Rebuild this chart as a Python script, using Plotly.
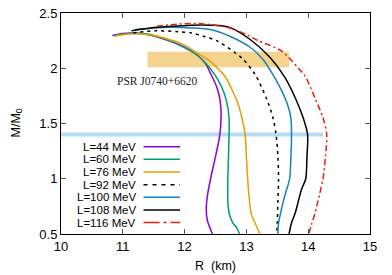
import plotly.graph_objects as go

# ---- data ----
labels = ["L=44 MeV", "L=60 MeV", "L=76 MeV", "L=92 MeV", "L=100 MeV", "L=108 MeV", "L=116 MeV"]

R_44 = [10.83, 11.0, 11.15, 11.36, 11.57, 11.79, 12.0, 12.2, 12.33, 12.44, 12.52, 12.57, 12.59, 12.57, 12.50, 12.42, 12.37, 12.35, 12.37, 12.45]
M_44 = [2.297, 2.315, 2.32, 2.31, 2.28, 2.24, 2.19, 2.12, 2.05, 1.93, 1.83, 1.72, 1.60, 1.40, 1.20, 1.00, 0.85, 0.72, 0.62, 0.50]

R_60 = [10.85, 11.1, 11.4, 11.65, 11.95, 12.2, 12.35, 12.49, 12.60, 12.68, 12.72, 12.72, 12.71, 12.70, 12.70, 12.72, 12.78, 12.84, 12.89]
M_60 = [2.295, 2.315, 2.31, 2.27, 2.20, 2.12, 2.04, 1.94, 1.83, 1.70, 1.55, 1.40, 1.20, 1.00, 0.80, 0.69, 0.60, 0.56, 0.50]

R_76 = [10.87, 11.1, 11.4, 11.7, 12.0, 12.25, 12.41, 12.55, 12.65, 12.78, 12.87, 12.94, 12.98, 13.00, 13.02, 13.05, 13.08, 13.14, 13.22]
M_76 = [2.29, 2.31, 2.305, 2.27, 2.21, 2.12, 2.065, 1.99, 1.93, 1.79, 1.67, 1.52, 1.40, 1.20, 1.00, 0.80, 0.68, 0.60, 0.50]

R_92 = [11.17, 11.52, 11.9, 12.11, 12.33, 12.52, 12.82, 12.95, 13.14, 13.33, 13.43, 13.48, 13.51, 13.52, 13.51, 13.50, 13.49]
M_92 = [2.32, 2.34, 2.33, 2.32, 2.285, 2.25, 2.14, 2.08, 1.944, 1.72, 1.55, 1.40, 1.20, 1.00, 0.80, 0.60, 0.50]

R_100 = [11.2, 11.5, 11.79, 12.1, 12.41, 12.73, 13.06, 13.27, 13.41, 13.55, 13.66, 13.72, 13.73, 13.72, 13.70, 13.65, 13.60, 13.55, 13.52, 13.51]
M_100 = [2.35, 2.365, 2.37, 2.365, 2.35, 2.29, 2.19, 2.08, 1.96, 1.82, 1.68, 1.55, 1.40, 1.20, 1.00, 0.90, 0.80, 0.68, 0.60, 0.50]

R_108 = [11.14, 11.45, 11.79, 12.1, 12.41, 12.73, 13.06, 13.38, 13.62, 13.80, 13.92, 13.99, 13.98, 13.96, 13.89, 13.79, 13.73, 13.69]
M_108 = [2.34, 2.365, 2.38, 2.39, 2.39, 2.37, 2.26, 2.10, 1.92, 1.72, 1.55, 1.40, 1.20, 1.00, 0.90, 0.69, 0.60, 0.50]

R_116 = [11.55, 11.9, 12.2, 12.5, 12.75, 12.98, 13.19, 13.57, 13.84, 13.95, 14.11, 14.24, 14.30, 14.28, 14.24, 14.18, 14.11, 14.05, 14.01]
M_116 = [2.38, 2.40, 2.405, 2.39, 2.36, 2.31, 2.25, 2.156, 2.00, 1.93, 1.73, 1.55, 1.40, 1.20, 1.00, 0.85, 0.69, 0.58, 0.50]

band_R = [10.0, 14.24]          # canonical 1.4 Msun band
band_M = [1.40, 1.40]
psr_R = [11.40, 13.69]          # PSR J0740+6620 constraint box
psr_M = [2.01, 2.15]
psr_label = "PSR J0740+6620"

x_ticks = [10, 11, 12, 13, 14, 15]
y_ticks = [0.5, 1, 1.5, 2, 2.5]
y_ticktext = ["0.5", "1", "1.5", "2", "2.5"]

# ---- styles: (R, M, color, curve dash, key dash) ----
series = [
    (R_44, M_44, "#9400d3", "solid", "solid"),
    (R_60, M_60, "#009e73", "solid", "solid"),
    (R_76, M_76, "#e69f00", "solid", "solid"),
    (R_92, M_92, "#000000", "3px,4px", "4px,5px"),
    (R_100, M_100, "#1a7fc1", "solid", "solid"),
    (R_108, M_108, "#000000", "solid", "solid"),
    (R_116, M_116, "#e51e10", "6px,3px,2px,3px", "16px,4px,3px,4px"),
]

W, H = 392, 275
plot_l, plot_r, plot_t, plot_b = 61, 370, 13, 234

def px_to_paper(px, py):
    return (px - plot_l) / (plot_r - plot_l), (plot_b - py) / (plot_b - plot_t)

fig = go.Figure()

# 1.4 Msun band
fig.add_trace(go.Scatter(x=band_R, y=band_M, mode="lines",
                         line=dict(color="rgba(86,180,233,0.45)", width=4),
                         showlegend=False, hoverinfo="skip"))

# PSR box
fig.add_shape(type="rect", xref="x", yref="y",
              x0=psr_R[0], x1=psr_R[1], y0=psr_M[0], y1=psr_M[1],
              fillcolor="rgba(230,159,0,0.45)", line=dict(width=0), layer="below")
fig.add_annotation(x=psr_R[0] - 0.53, y=1.885, xref="x", yref="y", text=psr_label,
                   showarrow=False, xanchor="left", yanchor="middle",
                   font=dict(family="Liberation Serif", size=11.5, color="#222"))

for (r, m, c, d, kd) in series:
    fig.add_trace(go.Scatter(x=r, y=m, mode="lines",
                             line=dict(color=c, width=1.5, dash=d, shape="spline", smoothing=0.8),
                             showlegend=False, hoverinfo="skip"))

# gnuplot-style key (text left, sample right)
row0 = 146.7
step = 12.65
for i, (lab, (r, m, c, d, kd)) in enumerate(zip(labels, series)):
    py = row0 + i * step
    tx, ty = px_to_paper(137.5, py)
    fig.add_annotation(x=tx, y=ty, xref="paper", yref="paper", text=lab, showarrow=False,
                       xanchor="right", yanchor="middle",
                       font=dict(family="Liberation Sans", size=11.5, color="#000"))
    x0, y0 = px_to_paper(143.5, py)
    x1, _ = px_to_paper(180, py)
    fig.add_shape(type="line", xref="paper", yref="paper", x0=x0, x1=x1, y0=y0, y1=y0,
                  line=dict(color=c, width=1.5, dash=kd))

# axis titles
ax, ay = px_to_paper(215.5, 266)
fig.add_annotation(x=ax, y=ay, xref="paper", yref="paper", text="R\u00a0 (km)", showarrow=False,
                   xanchor="center", yanchor="middle",
                   font=dict(family="Liberation Sans", size=12.5, color="#000"))
bx, by = px_to_paper(16, 123.5)
fig.add_annotation(x=bx, y=by, xref="paper", yref="paper", text="M/M<sub>0</sub>", showarrow=False,
                   xanchor="center", yanchor="middle", textangle=-90,
                   font=dict(family="Liberation Sans", size=12.5, color="#000"))

axis_common = dict(showline=True, linecolor="#000", linewidth=1, mirror="ticks",
                   ticks="inside", ticklen=5, tickcolor="#555", tickwidth=1,
                   showgrid=False, zeroline=False, automargin=False,
                   tickfont=dict(family="Liberation Sans", size=13, color="#000"))

fig.update_xaxes(range=[10, 15], tickvals=x_ticks, ticktext=[str(v) for v in x_ticks], **axis_common)
fig.update_yaxes(range=[0.5, 2.5], tickvals=y_ticks, ticktext=y_ticktext, **axis_common)

fig.update_layout(width=W, height=H, margin=dict(l=plot_l, r=W - plot_r, t=plot_t, b=H - plot_b),
                  plot_bgcolor="white", paper_bgcolor="white", showlegend=False)

fig.write_html("out.html", config={"displayModeBar": False},
               post_script="document.body.style.margin='0';document.body.style.overflow='hidden';")
